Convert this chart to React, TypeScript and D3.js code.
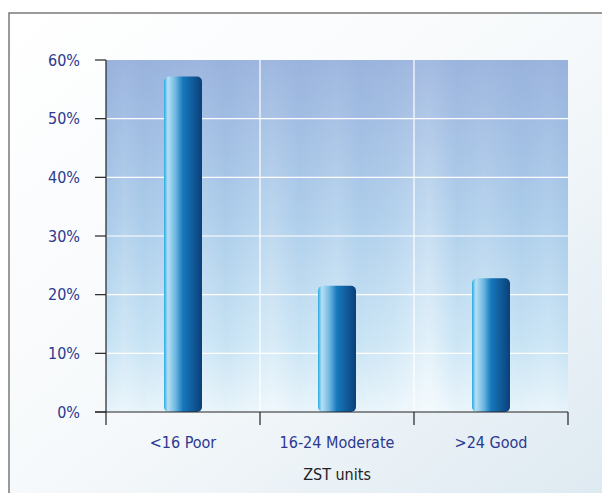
import React from "react";
import * as d3 from "d3";

const categories = ["<16 Poor", "16-24 Moderate", ">24 Good"];
const values = [57.2, 21.5, 22.8];
const yTicks = [0, 10, 20, 30, 40, 50, 60];
const xTitle = "ZST units";

const W = 602, H = 493;
const M = { left: 106, right: 34, top: 60, bottom: 81 };

export default function App() {
  const x = d3.scaleBand().domain(categories).range([M.left, W - M.right]).paddingInner(0).paddingOuter(0);
  const y = d3.scaleLinear().domain([0, 60]).range([H - M.bottom, M.top]);
  const barW = 38;
  const font = "'Liberation Sans Narrow', 'DejaVu Sans Condensed', sans-serif";
  const textCol = "#2b3990";
  const x0 = M.left, x1 = W - M.right, yb = y(0), yt = y(60);
  const streaks = [
    [0.0, 0.0], [0.04, 0.25], [0.08, 0.05], [0.2, 0.3], [0.26, 0.05], [0.3, 0.2], [0.36, 0.4],
    [0.42, 0.1], [0.5, 0.35], [0.55, 0.1], [0.62, 0.25], [0.7, 0.6], [0.76, 0.15], [0.82, 0.3],
    [0.9, 0.05], [0.96, 0.2], [1.0, 0.0]
  ];
  return (
    <svg width={W} height={H} style={{ position: "absolute", left: 0, top: 0 }}>
      <defs>
        <linearGradient id="bg" x1="0" y1="0" x2="1" y2="1">
          <stop offset="0" stopColor="#ffffff" />
          <stop offset="0.5" stopColor="#f6f9fb" />
          <stop offset="1" stopColor="#dde9f1" />
        </linearGradient>
        <linearGradient id="plotV" x1="0" y1="0" x2="0" y2="1">
          <stop offset="0" stopColor="#98b2dd" />
          <stop offset="0.45" stopColor="#a9cbea" />
          <stop offset="0.8" stopColor="#c4e2f4" />
          <stop offset="1" stopColor="#e6f3fa" />
        </linearGradient>
        <linearGradient id="plotH" x1="0" y1="0" x2="1" y2="0">
          {streaks.map(([o, a], i) => (
            <stop key={i} offset={o} stopColor="#ffffff" stopOpacity={a} />
          ))}
        </linearGradient>
        <linearGradient id="fadeMask" x1="0" y1="0" x2="0" y2="1">
          <stop offset="0" stopColor="#fff" stopOpacity={0.2} />
          <stop offset="1" stopColor="#fff" stopOpacity={1} />
        </linearGradient>
        <mask id="m">
          <rect x={x0} y={yt} width={x1 - x0} height={yb - yt} fill="url(#fadeMask)" />
        </mask>
        <linearGradient id="bar" x1="0" y1="0" x2="1" y2="0">
          <stop offset="0" stopColor="#27a9e1" />
          <stop offset="0.1" stopColor="#b9e0f4" />
          <stop offset="0.3" stopColor="#6fb8e2" />
          <stop offset="0.5" stopColor="#1678bb" />
          <stop offset="1" stopColor="#0b3f7a" />
        </linearGradient>
      </defs>
      <rect x={0} y={0} width={W} height={H} fill="#fff" />
      <rect x={9} y={13} width={W} height={H} fill="url(#bg)" stroke="#7a7a7a" strokeWidth={1.5} />
      <rect x={x0} y={yt} width={x1 - x0} height={yb - yt} fill="url(#plotV)" />
      <rect x={x0} y={yt} width={x1 - x0} height={yb - yt} fill="url(#plotH)" mask="url(#m)" />
      {yTicks.filter(t => t > 0 && t < 60).map(t => (
        <line key={t} x1={x0} x2={x1} y1={y(t)} y2={y(t)} stroke="#fff" strokeWidth={1.2} />
      ))}
      {categories.slice(1).map(c => (
        <line key={c} x1={x(c)!} x2={x(c)!} y1={yt} y2={yb} stroke="#fff" strokeWidth={1.2} />
      ))}
      {categories.map((c, i) => {
        const cx = x(c)! + x.bandwidth() / 2;
        return (
          <rect key={c} x={cx - barW / 2} y={y(values[i])} width={barW} height={yb - y(values[i])}
            rx={5} ry={5} fill="url(#bar)" />
        );
      })}
      <line x1={x0} x2={x0} y1={yt} y2={yb} stroke="#222" strokeWidth={1.2} />
      {yTicks.map(t => (
        <g key={t}>
          <line x1={x0 - 11} x2={x0} y1={y(t)} y2={y(t)} stroke="#222" strokeWidth={1.2} />
          <text x={x0 - 26} y={y(t)} dy="0.35em" textAnchor="end" fill={textCol}
            fontFamily={font} fontSize={16}>{t}%</text>
        </g>
      ))}
      <line x1={x0 - 11} x2={x1} y1={yb} y2={yb} stroke="#222" strokeWidth={1.2} />
      {[...categories.map(c => x(c)!), x1].map((p, i) => (
        <line key={i} x1={p} x2={p} y1={yb} y2={yb + 13} stroke="#222" strokeWidth={1.2} />
      ))}
      {categories.map(c => (
        <text key={c} x={x(c)! + x.bandwidth() / 2} y={yb + 30} dy="0.35em" textAnchor="middle"
          fill={textCol} fontFamily={font} fontSize={16}>{c}</text>
      ))}
      <text x={(x0 + x1) / 2} y={yb + 62} dy="0.35em" textAnchor="middle" fill="#222"
        fontFamily={font} fontSize={16}>{xTitle}</text>
    </svg>
  );
}
